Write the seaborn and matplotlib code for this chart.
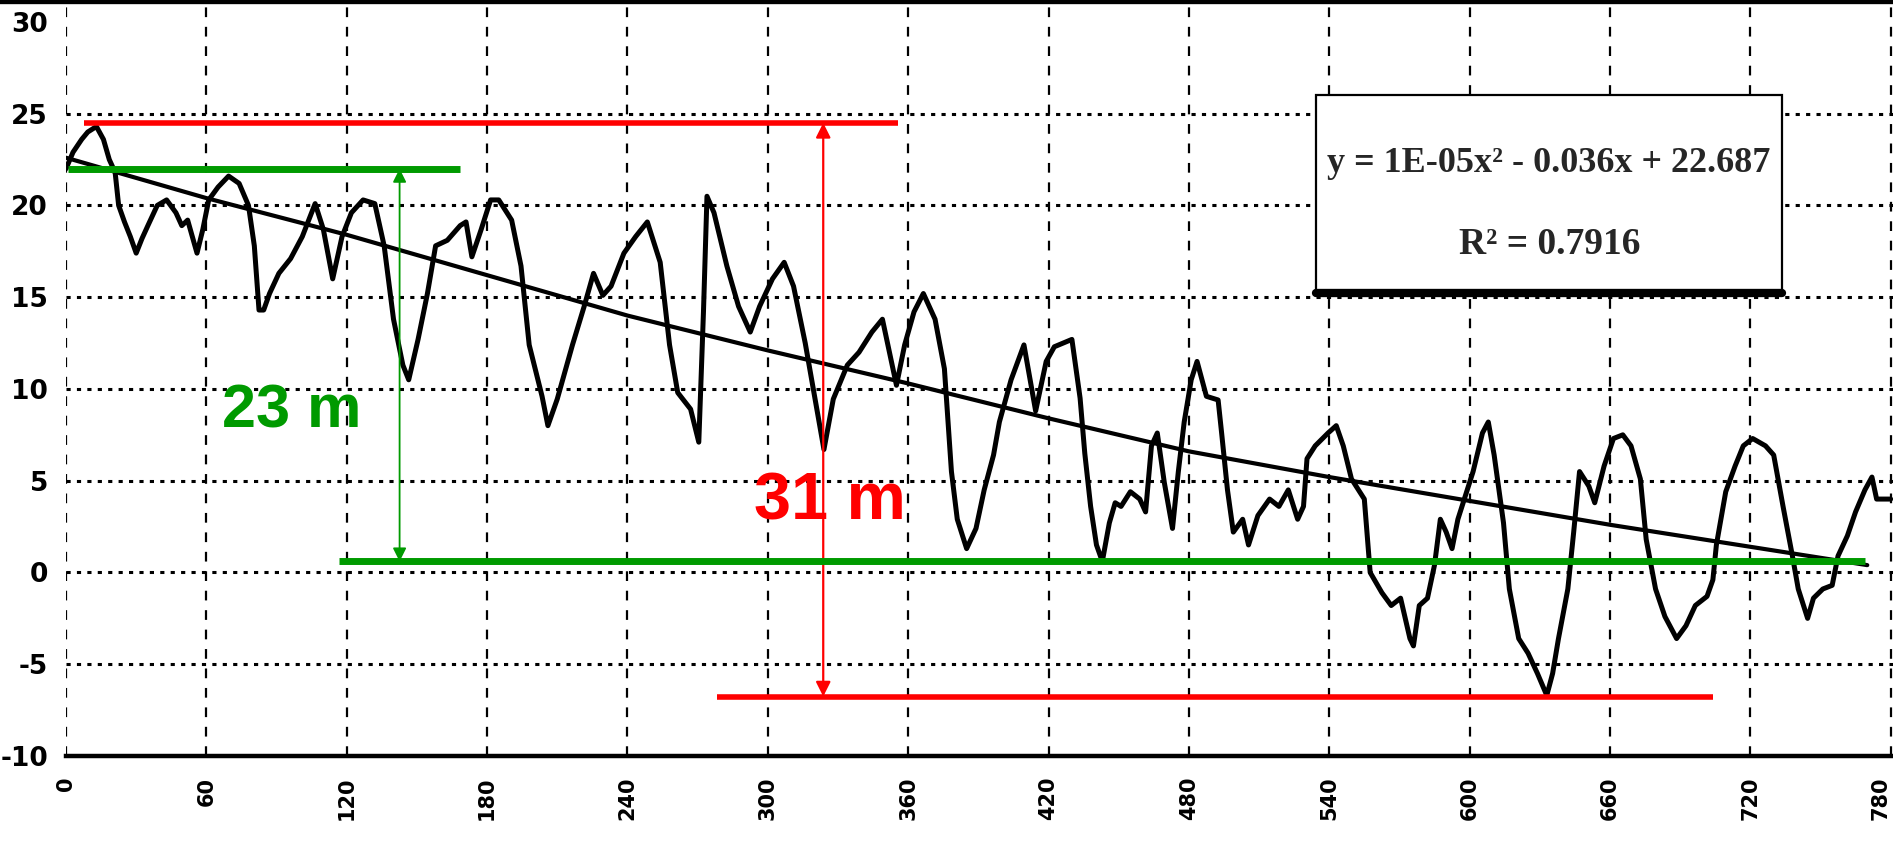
import matplotlib
matplotlib.use("Agg")
import matplotlib.pyplot as plt
from matplotlib.lines import Line2D
from matplotlib.patches import Rectangle
import seaborn as sns
import pandas as pd

# ---------------- data ----------------
distance = [0, 3, 6.7, 9.3, 13, 16, 18.5, 21, 22.5, 25, 27.5, 30, 32.5, 35, 39, 43, 47, 49.5, 52, 56,
            58.5, 61, 65, 69.5, 74, 78, 80.5, 82.5, 84.5, 87, 91, 96, 101, 106.5, 110, 114, 118, 122,
            127, 132, 136, 140, 144, 146.5, 150.5, 154.5, 158, 163, 168.5, 171, 173.5, 177.5, 181.5,
            185, 190.5, 194.5, 198, 203.5, 206, 210, 216.5, 221.5, 225.5, 229.5, 233, 238.5, 243.5,
            248.5, 254, 258, 261.5, 267, 270.5, 272.5, 274, 277, 282.5, 287.5, 292.5, 296.5, 302, 307,
            311, 316, 320, 324, 328, 334, 339, 344.5, 349, 352, 355, 358.5, 362.5, 366.5, 371.5, 375.5,
            378.5, 381, 385, 389, 392.5, 396.5, 399, 404, 409.5, 414.5, 419, 422.5, 430, 433.5, 435.5,
            438, 440.5, 443, 446, 448.5, 451, 455, 459, 461.5, 464, 466.5, 469.5, 473, 475.5, 478, 481,
            483.5, 487.5, 492.5, 494, 496.5, 499, 503, 505.5, 509.5, 514.5, 518.5, 522.5, 526.5, 529,
            530.5, 534, 539.5, 543, 546, 549.5, 555, 557.5, 562.5, 566.5, 570.5, 574.5, 576, 578.5, 582,
            585, 587.5, 590, 592.5, 595, 599, 601.5, 605.5, 608, 610.5, 614.5, 617, 621, 625, 629, 633,
            635.5, 638, 642, 644.5, 647, 651, 653.5, 657.5, 661.5, 665.5, 669, 673, 675.5, 679.5, 683.5,
            688.5, 692.5, 696.5, 701.5, 704, 705.5, 709.5, 713.5, 717, 721, 726.5, 730, 734, 738, 740.5,
            744.5, 747, 751, 755, 757.5, 761.5, 765, 769, 772, 774, 780]
elevation = [22.0, 22.9, 23.6, 24.0, 24.3, 23.6, 22.5, 21.8, 20.0, 19.1, 18.3, 17.4, 18.2, 18.9, 20.0,
             20.3, 19.6, 18.9, 19.2, 17.4, 18.7, 20.3, 21.0, 21.6, 21.2, 20.0, 17.8, 14.3, 14.3, 15.2,
             16.3, 17.1, 18.3, 20.1, 18.7, 16.0, 18.3, 19.6, 20.3, 20.1, 17.8, 13.8, 11.3, 10.5, 12.7,
             15.2, 17.8, 18.1, 18.9, 19.1, 17.2, 18.7, 20.3, 20.3, 19.2, 16.7, 12.4, 9.6, 8.0, 9.45,
             12.4, 14.5, 16.3, 15.1, 15.6, 17.4, 18.3, 19.1, 16.9, 12.4, 9.8, 8.9, 7.1, 14.2, 20.5,
             19.6, 16.7, 14.5, 13.1, 14.5, 16.0, 16.9, 15.6, 12.5, 9.6, 6.7, 9.45, 11.3, 12.0, 13.1,
             13.8, 12.0, 10.2, 12.4, 14.2, 15.2, 13.8, 11.1,
             5.5, 2.9, 1.3, 2.4, 4.5, 6.4, 8.2, 10.5, 12.4, 8.8, 11.5, 12.3, 12.7, 9.5, 6.5,
             3.6, 1.5, 0.6, 2.7, 3.8, 3.6, 4.4, 4.0, 3.3, 6.9, 7.6, 4.9, 2.4, 5.5, 8.2, 10.5,
             11.5, 9.6, 9.4, 7.6, 4.5, 2.2, 2.9, 1.5, 3.1, 4.0, 3.6, 4.5, 2.9, 3.6,
             6.2, 6.9, 7.6, 8.0, 6.9, 5.1, 4.0, 0.0, -1.1, -1.8, -1.4, -3.6, -4.0, -1.8, -1.4,
             0.4, 2.9, 2.2, 1.3, 2.9, 4.5, 5.5, 7.6, 8.2, 6.4, 2.7, -0.9, -3.6, -4.4, -5.5, -6.7,
             -5.5, -3.6, -0.9, 2.2, 5.5, 4.7, 3.8, 5.8, 7.3, 7.5, 6.9, 5.1, 1.8, -0.9, -2.4,
             -3.6, -2.9, -1.8, -1.3, -0.4, 1.5, 4.4, 5.8, 6.9, 7.3, 6.9, 6.4, 3.6, 0.9, -0.9,
             -2.5, -1.4, -0.9, -0.7, 0.9, 2.0, 3.3, 4.5, 5.2, 4.0, 4.0]

# polynomial trend line as drawn in the chart
trend_x = [0, 60, 120, 180, 240, 300, 360, 420, 480, 540, 600, 660, 720, 770]
trend_y = [22.6, 20.4, 18.4, 16.2, 14.0, 12.1, 10.3, 8.4, 6.6, 5.2, 3.9, 2.6, 1.4, 0.4]

x_ticks = list(range(0, 781, 60))
y_ticks = [-10, -5, 0, 5, 10, 15, 20, 25, 30]
y_grid = [-5, 0, 5, 10, 15, 20, 25]

equation_text = "y = 1E-05x\u00b2 - 0.036x + 22.687"
r2_text = "R\u00b2 = 0.7916"

red_top, red_bottom = 24.5, -6.76
red_top_span = (7.5, 355.6)
red_bottom_span = (278.4, 704.0)
red_arrow_x = 323.7
green_top, green_bottom = 22.0, 0.6
green_top_span = (0.85, 168.5)
green_bottom_span = (116.6, 769.0)
green_arrow_x = 142.6
label_31 = "31 m"
label_23 = "23 m"

RED = "#ff0000"
GREEN = "#009a00"

# ---------------- plot ----------------
sns.set_style("white")
plt.rcParams["font.family"] = ["DejaVu Sans"]
plt.rcParams["axes.unicode_minus"] = False
plt.rcParams["lines.scale_dashes"] = False

df = pd.DataFrame({"distance": distance, "elevation": elevation})
trend = pd.DataFrame({"distance": trend_x, "elevation": trend_y})

fig = plt.figure(figsize=(18.93, 8.43), dpi=100)
ax = fig.add_axes([0.03487, 0.1032, 0.96513, 0.8904])

ax.set_xlim(0, 781)
ax.set_ylim(-10, 30.9)

# grid
ax.set_xticks(x_ticks)
ax.set_yticks(y_ticks)
ax.set_xticks(list(range(30, 780, 60)), minor=True)
ax.xaxis.grid(True, which="major", color="black", lw=1.6, ls=(0, (7, 7)), zorder=0)
for gy in y_grid:
    ax.axhline(gy, color="black", lw=2.2, ls=(0, (3, 4.5)), zorder=0)

for s in ["left", "top", "right"]:
    ax.spines[s].set_visible(False)
ax.spines["bottom"].set_linewidth(3.2)
ax.spines["bottom"].set_color("black")

ax.tick_params(axis="y", direction="inout", length=12, width=2, pad=7,
               labelsize=19, colors="black")
ax.tick_params(axis="x", which="major", direction="inout", length=14, width=2, pad=8,
               labelsize=15, colors="black", labelrotation=90)
ax.tick_params(axis="x", which="minor", direction="out", length=7, width=2, colors="black")
for lab in ax.get_yticklabels() + ax.get_xticklabels():
    lab.set_fontweight("bold")
xlabels = ax.get_xticklabels()
xlabels[-1].set_horizontalalignment("right")

# profile and trend
sns.lineplot(data=df, x="distance", y="elevation", color="black", lw=3.6,
             sort=False, estimator=None, ax=ax, zorder=3)
sns.lineplot(data=trend, x="distance", y="elevation", color="black", lw=3.0,
             sort=False, estimator=None, ax=ax, zorder=3)
ax.set_xlabel("")
ax.set_ylabel("")

# red annotation
ax.plot(red_top_span, [red_top, red_top], color=RED, lw=4, zorder=5, solid_capstyle="butt")
ax.plot(red_bottom_span, [red_bottom, red_bottom], color=RED, lw=4, zorder=5, solid_capstyle="butt")
ax.annotate("", xy=(red_arrow_x, red_bottom), xytext=(red_arrow_x, red_top),
            arrowprops=dict(arrowstyle="<|-|>", color=RED, lw=1.6, mutation_scale=22,
                            shrinkA=0, shrinkB=0), zorder=5)
ax.text(red_arrow_x + 3, 2.9, label_31, color=RED, fontsize=48, fontweight="bold",
        family=["Liberation Sans", "DejaVu Sans"], ha="center", va="baseline", zorder=6)

# green annotation
ax.plot(green_top_span, [green_top, green_top], color=GREEN, lw=5, zorder=5, solid_capstyle="butt")
ax.plot(green_bottom_span, [green_bottom, green_bottom], color=GREEN, lw=5, zorder=5,
        solid_capstyle="butt")
ax.annotate("", xy=(green_arrow_x, green_bottom), xytext=(green_arrow_x, green_top),
            arrowprops=dict(arrowstyle="<|-|>", color=GREEN, lw=1.3, mutation_scale=20,
                            shrinkA=0, shrinkB=0), zorder=5)
ax.text(96.5, 7.9, label_23, color=GREEN, fontsize=44, fontweight="bold",
        family=["Liberation Sans", "DejaVu Sans"], ha="center", va="baseline", zorder=6)

# equation box
box = Rectangle((0.684, 0.617), 0.255, 0.264, transform=ax.transAxes, facecolor="white",
                edgecolor="black", lw=1.6, zorder=7)
ax.add_patch(box)
ax.add_line(Line2D([0.684, 0.939], [0.617, 0.617], transform=ax.transAxes, color="black",
                   lw=6, zorder=8))
ax.text(0.8115, 0.790, equation_text, transform=ax.transAxes, ha="center", va="center",
        fontsize=26, fontweight="bold", family=["Liberation Serif", "DejaVu Serif"], zorder=9)
ax.text(0.812, 0.682, r2_text, transform=ax.transAxes, ha="center", va="center",
        fontsize=27, fontweight="bold", family=["Liberation Serif", "DejaVu Serif"], zorder=9)

# scanned image top border
fig.add_artist(Line2D([0, 1], [1, 1], transform=fig.transFigure, color="black", lw=6))

fig.savefig("out.png", dpi=100)
